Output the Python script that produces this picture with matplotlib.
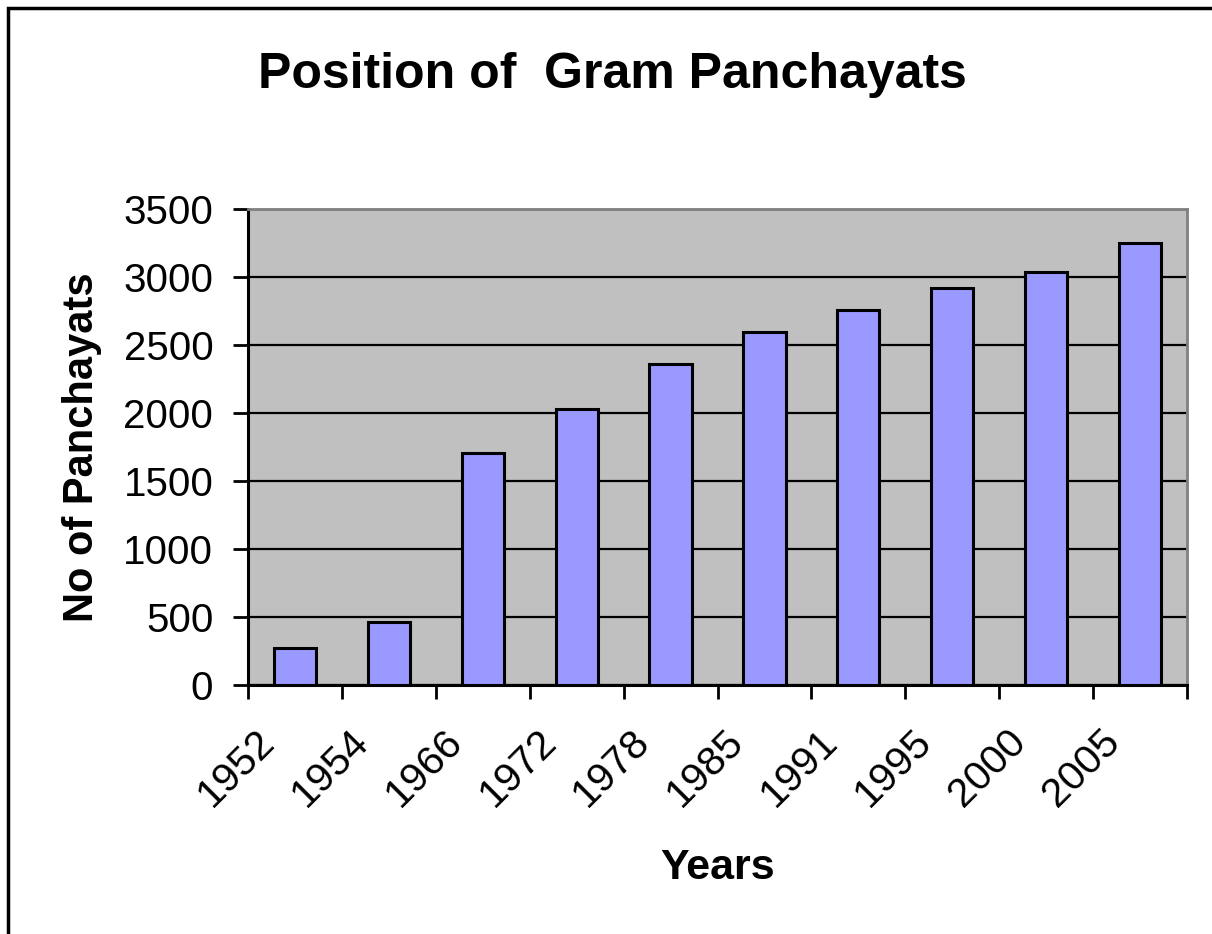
import matplotlib.pyplot as plt
from matplotlib.patches import Rectangle
from matplotlib.transforms import ScaledTranslation
import numpy as np

years = ['1952', '1954', '1966', '1972', '1978', '1985', '1991', '1995', '2000', '2005']
panchayats = [275, 465, 1705, 2030, 2360, 2595, 2755, 2920, 3040, 3250]

plt.rcParams['font.family'] = ['Liberation Sans', 'DejaVu Sans']

fig = plt.figure(figsize=(12.12, 9.34), dpi=100)
ax = fig.add_axes([248 / 1212, 1 - 685 / 934, (1187 - 248) / 1212, (685 - 209) / 934])

# outer frame of the chart
fig.patches.append(Rectangle((8 / 1212, -0.05), 1.1, 1 - 8 / 934 + 0.05,
                             transform=fig.transFigure, fill=False,
                             edgecolor='black', linewidth=2.5))

x = np.arange(len(years))
ax.set_facecolor('#C0C0C0')
ax.bar(x, panchayats, width=0.45, color='#9999FF', edgecolor='black',
       linewidth=2.2, zorder=3)

ax.set_ylim(0, 3500)
ax.set_xlim(-0.5, len(years) - 0.5)
ax.set_yticks(np.arange(0, 3501, 500))
ax.yaxis.grid(True, color='black', linewidth=1.6, zorder=1)
ax.set_axisbelow(True)

# category boundaries as major ticks, labels on minor ticks
ax.set_xticks(np.arange(-0.5, len(years), 1.0))
ax.set_xticklabels([])
ax.set_xticks(x, minor=True)
ax.set_xticklabels(years, minor=True, rotation=45, ha='right', va='top',
                   fontsize=29.5)
ax.tick_params(axis='x', which='minor', length=0, pad=27)
ax.tick_params(axis='x', which='major', length=10, width=2, direction='out')
ax.tick_params(axis='y', length=11, width=2, direction='out', labelsize=29, pad=14)

shift = ScaledTranslation(-13 / 100, 0, fig.dpi_scale_trans)
for lab in ax.get_xticklabels(minor=True):
    lab.set_transform(lab.get_transform() + shift)

for side in ['left', 'bottom']:
    ax.spines[side].set_linewidth(2.2)
    ax.spines[side].set_color('black')
for side in ['top', 'right']:
    ax.spines[side].set_linewidth(2)
    ax.spines[side].set_color('#808080')

ax.set_ylabel('No of Panchayats', fontsize=30, fontweight='bold')
ax.yaxis.set_label_coords(-0.155, 0.5)
ax.set_xlabel('Years', fontsize=31, fontweight='bold')
ax.xaxis.set_label_coords(0.5, (685 - 848) / 476)

fig.text(612 / 1212, 1 - 75 / 934, 'Position of  Gram Panchayats',
         ha='center', va='center', fontsize=36, fontweight='bold')

fig.savefig('out.png', dpi=100, facecolor='white')
